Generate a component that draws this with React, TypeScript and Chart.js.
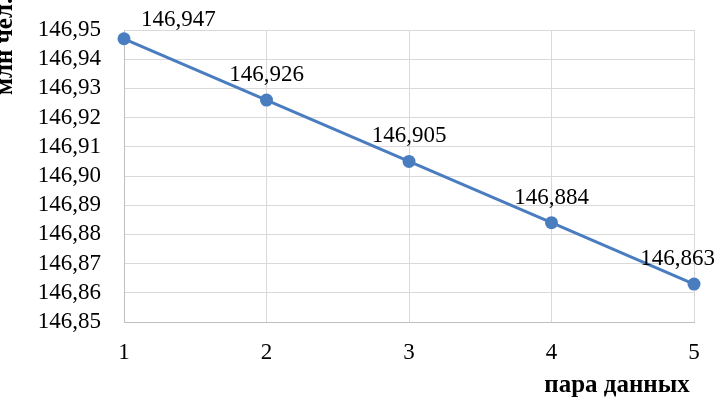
import React, { useEffect, useRef } from "react";
import { Chart, registerables } from "chart.js";

Chart.register(...registerables);

const pairs = [1, 2, 3, 4, 5];
const population = [146.947, 146.926, 146.905, 146.884, 146.863];
const yTitle = "млн чел.";
const xTitle = "пара данных";

const FONT = "'Liberation Serif', 'Times New Roman', serif";
const fmt = (v: number, d: number) => v.toFixed(d).replace(".", ",");

export default function App() {
  const ref = useRef<HTMLCanvasElement | null>(null);
  useEffect(() => {
    const canvas = ref.current!;
    const labelPlugin = {
      id: "custom",
      afterDatasetsDraw(chart: any) {
        const ctx = chart.ctx;
        const meta = chart.getDatasetMeta(0);
        ctx.save();
        ctx.font = `23px ${FONT}`;
        ctx.fillStyle = "#000";
        ctx.textBaseline = "alphabetic";
        ctx.textAlign = "center";
        meta.data.forEach((pt: any, i: number) => {
          const txt = fmt(population[i], 3);
          const w = ctx.measureText(txt).width;
          let x = pt.x;
          x = Math.max(x, chart.chartArea.left + w / 2 + 17);
          x = Math.min(x, chart.width - w / 2);
          const y = Math.max(pt.y - 19, 26);
          ctx.fillText(txt, x, y);
        });
        ctx.restore();
      },
      afterDraw(chart: any) {
        const ctx = chart.ctx;
        ctx.save();
        ctx.font = `bold 25px ${FONT}`;
        ctx.fillStyle = "#000";
        ctx.textBaseline = "alphabetic";
        ctx.textAlign = "center";
        ctx.fillText(xTitle, 617, 392);
        ctx.translate(12, 95);
        ctx.rotate(-Math.PI / 2);
        ctx.textAlign = "left";
        ctx.fillText(yTitle, 0, 0);
        ctx.restore();
      },
    };
    const chart = new Chart(canvas, {
      type: "line",
      data: {
        datasets: [
          {
            data: pairs.map((p, i) => ({ x: p, y: population[i] })),
            borderColor: "#4A7DC0",
            backgroundColor: "#4A7DC0",
            borderWidth: 3,
            pointRadius: 6.5,
            pointBorderWidth: 0,
            tension: 0,
            clip: false,
          },
        ],
      },
      options: {
        responsive: false,
        animation: false,
        layout: { padding: { top: 30, right: 21, left: 0, bottom: 0 } },
        plugins: { legend: { display: false }, tooltip: { enabled: false } },
        scales: {
          x: {
            type: "linear",
            min: 1,
            max: 5,
            afterFit: (s: any) => {
              s.height = 81;
              s.paddingLeft = 0;
              s.paddingRight = 0;
            },
            ticks: {
              stepSize: 1,
              padding: 17,
              color: "#000",
              font: { family: FONT, size: 23 },
              callback: (v: any) => String(v),
            },
            grid: { color: "#D9D9D9", drawTicks: false, lineWidth: 1 },
            border: { color: "#BFBFBF" },
          },
          y: {
            min: 146.85,
            max: 146.95,
            afterFit: (s: any) => {
              s.width = 124;
              s.paddingTop = 0;
              s.paddingBottom = 0;
            },
            ticks: {
              stepSize: 0.01,
              autoSkip: false,
              padding: 23,
              color: "#000",
              font: { family: FONT, size: 23 },
              callback: (v: any) => fmt(Number(v), 2),
            },
            grid: { color: "#D9D9D9", drawTicks: false, lineWidth: 1 },
            border: { color: "#BFBFBF" },
          },
        },
      },
      plugins: [labelPlugin],
    } as any);
    return () => chart.destroy();
  }, []);
  return (
    <div style={{ position: "absolute", left: 0, top: 0, width: 715, height: 403, background: "#fff" }}>
      <canvas ref={ref} width={715} height={403} style={{ display: "block" }} />
    </div>
  );
}
